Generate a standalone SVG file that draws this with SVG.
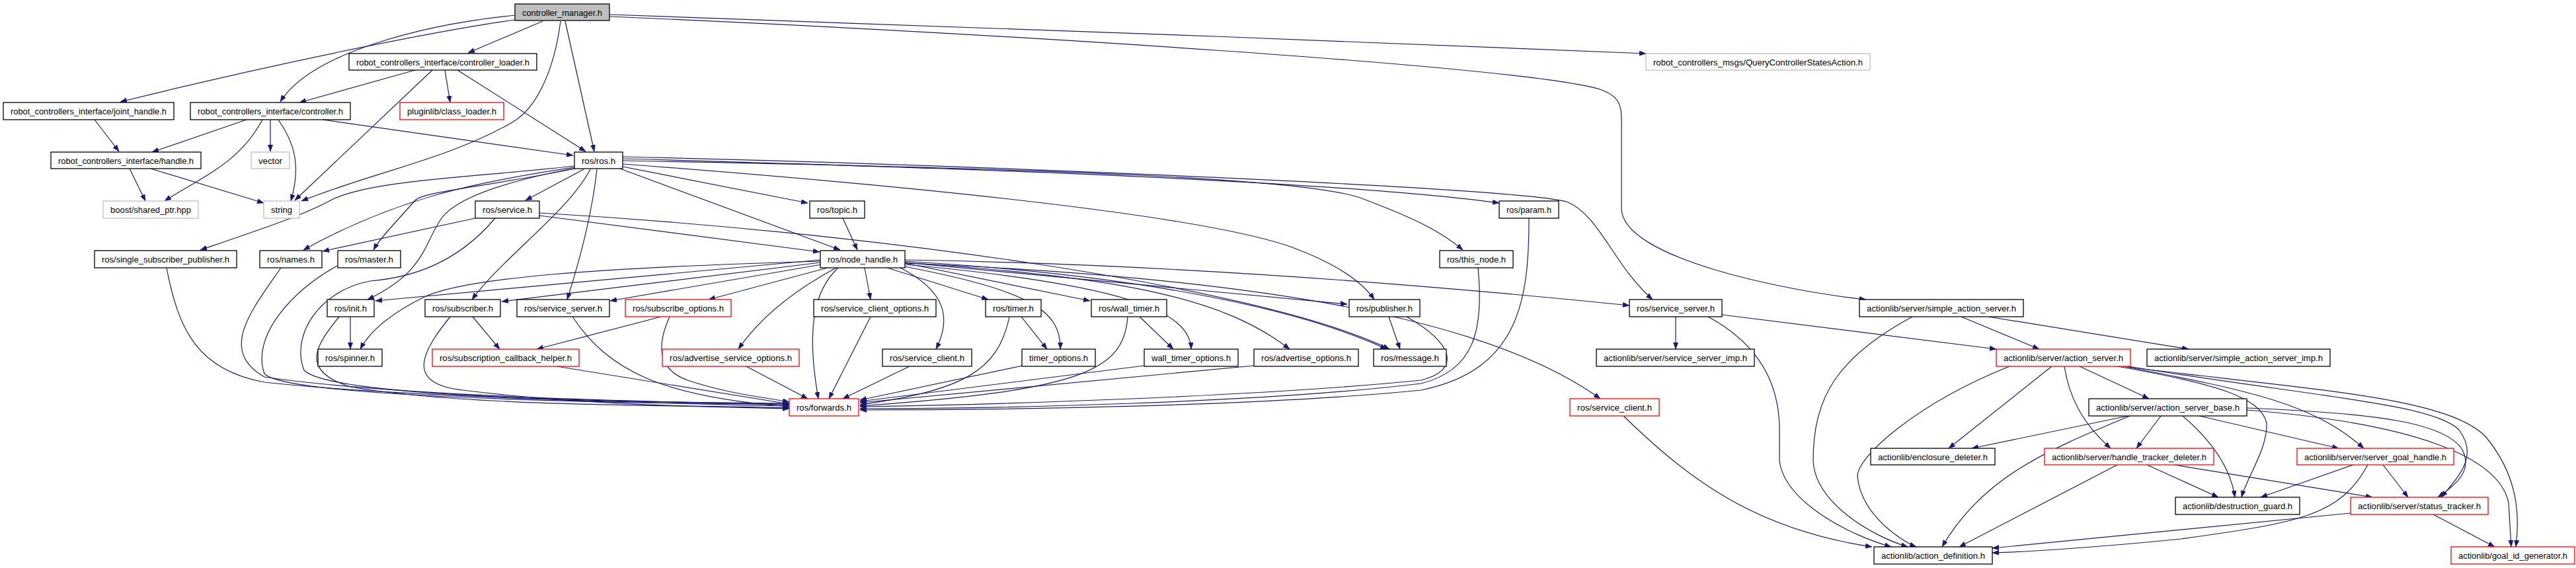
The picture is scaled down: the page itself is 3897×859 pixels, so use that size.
<svg xmlns="http://www.w3.org/2000/svg" width="3897" height="859" viewBox="0 0 3897 859">
<style>
.n rect{fill:#fff;stroke:#000;stroke-width:1.3}
.g rect{fill:#fff;stroke:#bfbfbf;stroke-width:1.3}
.r rect{fill:#fff;stroke:#ff0000;stroke-width:1.3}
.root rect{fill:#bfbfbf;stroke:#000;stroke-width:1.3}
text{font-family:"Liberation Sans",Arial,sans-serif;font-size:12.5px;fill:#000;text-anchor:middle}
#edges path{fill:none;stroke:#191970;stroke-width:1.2;marker-end:url(#ah)}
</style>
<defs>
<marker id="ah" markerUnits="userSpaceOnUse" markerWidth="11" markerHeight="8" refX="10" refY="3.75" orient="auto">
<path d="M0,0 L10,3.75 L0,7.5 z" fill="#191970" stroke="#191970" stroke-width="0.5"/>
</marker>
</defs>
<rect width="3897" height="859" fill="#fff"/>
<g id="edges">
<path d="M779,30 C650,48 400,100 182,154"/>
<path d="M779,23 C640,37 470,80 424,154"/>
<path d="M821,32 L708,80"/>
<path d="M848,32 C838,110 810,165 775,185 C680,240 560,262 456,304"/>
<path d="M855,32 L899,229"/>
<path d="M922,22 C1300,35 2000,60 2490,81"/>
<path d="M922,25 C1500,50 2300,100 2420,135 C2450,145 2453,160 2453,180 L2453,315 C2453,390 2700,440 2823,453"/>
<path d="M628,106 L453,155"/>
<path d="M654,106 L446,303"/>
<path d="M673,106 L681,155"/>
<path d="M692,106 L886,229"/>
<path d="M143,181 L180,229"/>
<path d="M373,181 L230,230"/>
<path d="M397,181 C360,250 300,270 249,304"/>
<path d="M409,181 L409,229"/>
<path d="M421,181 C445,215 456,250 440,304"/>
<path d="M488,181 L867,235"/>
<path d="M196,255 L220,304"/>
<path d="M228,255 L399,307"/>
<path d="M883,256 L795,303"/>
<path d="M869,251 C720,268 560,272 500,303 C460,325 400,345 303,378"/>
<path d="M869,253 C720,275 600,300 459,378"/>
<path d="M870,255 C720,285 640,290 628,303 C600,335 575,360 565,378"/>
<path d="M872,254 C760,275 690,300 668,330 C640,370 645,410 556,453"/>
<path d="M893,256 C860,320 760,390 714,453"/>
<path d="M903,256 C895,330 875,400 858,453"/>
<path d="M938,255 L1271,378"/>
<path d="M942,252 L1222,307"/>
<path d="M942,240 C1300,250 2000,270 2268,307"/>
<path d="M942,243 C1600,255 1980,270 2060,300 C2140,330 2180,350 2213,378"/>
<path d="M942,248 C1300,275 1800,320 1952,373 C2020,398 2060,425 2079,453"/>
<path d="M942,237 C1500,250 2300,285 2370,305 C2420,325 2440,400 2500,453"/>
<path d="M719,330 L488,380"/>
<path d="M816,326 L1240,381"/>
<path d="M816,322 C1300,350 1900,430 2102,528"/>
<path d="M749,330 C690,400 620,420 560,425 C480,440 440,510 460,560 C500,600 900,608 1194,610"/>
<path d="M252,405 C270,500 300,560 400,578 C600,600 1000,610 1194,614"/>
<path d="M425,405 C380,470 330,530 400,570 C600,600 1000,608 1194,612"/>
<path d="M510,402 C440,440 380,510 400,565 C430,600 900,610 1194,611"/>
<path d="M513,479 C480,520 450,560 530,585 C700,615 1000,612 1194,617"/>
<path d="M681,479 C640,530 610,580 700,590 C900,615 1100,615 1194,618"/>
<path d="M842,554 L1194,611"/>
<path d="M866,479 C920,560 1000,600 1194,615"/>
<path d="M1013,479 C990,530 1000,560 1040,575 C1100,595 1150,600 1194,608"/>
<path d="M1127,553 L1222,603"/>
<path d="M1268,405 C1230,440 1220,500 1238,603"/>
<path d="M1317,479 L1254,603"/>
<path d="M1378,553 L1275,603"/>
<path d="M1527,479 C1510,560 1460,590 1301,612"/>
<path d="M1547,553 L1301,605"/>
<path d="M1706,479 C1700,560 1640,590 1301,614"/>
<path d="M1731,553 L1301,607"/>
<path d="M1897,553 L1301,609"/>
<path d="M2128,479 C2200,520 2210,560 2150,575 C1900,600 1500,612 1301,615"/>
<path d="M2236,405 C2245,500 2230,560 2150,580 C1900,610 1500,618 1301,618"/>
<path d="M2313,330 C2313,450 2300,560 2150,590 C1900,615 1500,620 1301,620"/>
<path d="M530,479 L530,528"/>
<path d="M1241,395 C900,405 700,420 640,450 C590,475 560,500 545,528"/>
<path d="M1241,393 L568,455"/>
<path d="M1241,397 L759,456"/>
<path d="M1243,400 L923,455"/>
<path d="M1252,405 L1072,453"/>
<path d="M1265,405 C1200,440 1150,480 1117,528"/>
<path d="M1308,405 L1317,453"/>
<path d="M1342,405 L1495,453"/>
<path d="M1369,398 L1649,455"/>
<path d="M1362,405 C1430,440 1440,480 1416,528"/>
<path d="M1368,403 C1560,440 1605,470 1604,528"/>
<path d="M1369,400 C1700,430 1800,470 1802,528"/>
<path d="M1369,397 C1700,420 1850,450 1951,528"/>
<path d="M1369,397 L2038,460"/>
<path d="M1369,395 C1700,415 1950,460 2098,528"/>
<path d="M1369,393 C1800,400 2200,435 2465,462"/>
<path d="M1369,398 C1900,420 2250,480 2421,603"/>
<path d="M1275,330 L1297,378"/>
<path d="M715,479 L756,528"/>
<path d="M1000,479 L812,528"/>
<path d="M1545,479 L1584,528"/>
<path d="M1724,479 L1775,528"/>
<path d="M2101,479 L2118,528"/>
<path d="M2535,479 L2535,528"/>
<path d="M2584,479 C2660,520 2692,580 2692,650 L2692,697 C2700,760 2800,810 2861,827"/>
<path d="M2605,476 L3020,528"/>
<path d="M2456,629 C2550,720 2650,800 2832,827"/>
<path d="M2893,479 C2780,540 2743,600 2743,697 C2746,760 2830,810 2886,827"/>
<path d="M2967,479 L3085,528"/>
<path d="M3008,479 L3311,528"/>
<path d="M3040,554 C2900,610 2810,690 2810,720 C2815,780 2880,820 2899,827"/>
<path d="M3104,554 L2948,678"/>
<path d="M3123,554 C3130,600 3150,640 3193,678"/>
<path d="M3146,554 L3251,603"/>
<path d="M3203,554 C3350,580 3420,600 3429,640 C3430,680 3400,720 3391,752"/>
<path d="M3212,554 C3400,590 3500,610 3576,678"/>
<path d="M3219,554 C3500,600 3680,610 3720,650 C3750,690 3720,720 3693,752"/>
<path d="M3219,555 C3500,590 3700,600 3760,660 C3810,720 3812,780 3806,827"/>
<path d="M3219,629 L2983,678"/>
<path d="M3222,629 C3100,680 3000,720 2938,827"/>
<path d="M3269,629 L3232,678"/>
<path d="M3302,629 C3350,670 3375,710 3381,752"/>
<path d="M3327,629 L3538,678"/>
<path d="M3399,617 C3600,625 3700,640 3725,680 C3740,710 3720,730 3688,752"/>
<path d="M3399,620 C3650,640 3780,690 3795,760 L3799,827"/>
<path d="M3203,703 L2964,827"/>
<path d="M3248,703 L3356,752"/>
<path d="M3289,703 L3589,752"/>
<path d="M3560,703 L3420,752"/>
<path d="M3582,703 C3540,780 3480,790 3300,815 C3150,830 3050,835 3014,836"/>
<path d="M3605,703 L3643,752"/>
<path d="M3556,776 L3014,829"/>
<path d="M3681,778 L3774,827"/>
</g>
<g id="n0" class="root"><rect x="779" y="6" width="143" height="25"/><text x="850.5" y="23.5" textLength="121" lengthAdjust="spacingAndGlyphs">controller_manager.h</text></g>
<g id="n1" class="n"><rect x="528" y="81" width="284" height="25"/><text x="670" y="98.5" textLength="262" lengthAdjust="spacingAndGlyphs">robot_controllers_interface/controller_loader.h</text></g>
<g id="n2" class="g"><rect x="2490" y="81" width="339" height="25"/><text x="2659.5" y="98.5" textLength="317" lengthAdjust="spacingAndGlyphs">robot_controllers_msgs/QueryControllerStatesAction.h</text></g>
<g id="n3" class="n"><rect x="5" y="155" width="258" height="26"/><text x="134" y="172.5" textLength="236" lengthAdjust="spacingAndGlyphs">robot_controllers_interface/joint_handle.h</text></g>
<g id="n4" class="n"><rect x="288" y="155" width="242" height="26"/><text x="409" y="172.5" textLength="220" lengthAdjust="spacingAndGlyphs">robot_controllers_interface/controller.h</text></g>
<g id="n5" class="r"><rect x="605" y="155" width="157" height="26"/><text x="683.5" y="172.5" textLength="135" lengthAdjust="spacingAndGlyphs">pluginlib/class_loader.h</text></g>
<g id="n6" class="n"><rect x="77" y="230" width="227" height="25"/><text x="190.5" y="247.5" textLength="205" lengthAdjust="spacingAndGlyphs">robot_controllers_interface/handle.h</text></g>
<g id="n7" class="g"><rect x="380" y="230" width="58" height="25"/><text x="409" y="247.5" textLength="36" lengthAdjust="spacingAndGlyphs">vector</text></g>
<g id="n8" class="n"><rect x="869" y="230" width="73" height="25"/><text x="905.5" y="247.5" textLength="51" lengthAdjust="spacingAndGlyphs">ros/ros.h</text></g>
<g id="n9" class="g"><rect x="156" y="304" width="144" height="26"/><text x="228" y="321.5" textLength="122" lengthAdjust="spacingAndGlyphs">boost/shared_ptr.hpp</text></g>
<g id="n10" class="g"><rect x="399" y="304" width="54" height="26"/><text x="426" y="321.5" textLength="32" lengthAdjust="spacingAndGlyphs">string</text></g>
<g id="n11" class="n"><rect x="719" y="304" width="97" height="26"/><text x="767.5" y="321.5" textLength="75" lengthAdjust="spacingAndGlyphs">ros/service.h</text></g>
<g id="n12" class="n"><rect x="1225" y="304" width="83" height="26"/><text x="1266.5" y="321.5" textLength="61" lengthAdjust="spacingAndGlyphs">ros/topic.h</text></g>
<g id="n13" class="n"><rect x="2268" y="304" width="90" height="26"/><text x="2313" y="321.5" textLength="68" lengthAdjust="spacingAndGlyphs">ros/param.h</text></g>
<g id="n14" class="n"><rect x="143" y="379" width="215" height="26"/><text x="250.5" y="396.5" textLength="193" lengthAdjust="spacingAndGlyphs">ros/single_subscriber_publisher.h</text></g>
<g id="n15" class="n"><rect x="393" y="379" width="94" height="26"/><text x="440" y="396.5" textLength="72" lengthAdjust="spacingAndGlyphs">ros/names.h</text></g>
<g id="n16" class="n"><rect x="511" y="379" width="95" height="26"/><text x="558.5" y="396.5" textLength="73" lengthAdjust="spacingAndGlyphs">ros/master.h</text></g>
<g id="n17" class="n"><rect x="1241" y="379" width="128" height="26"/><text x="1305" y="396.5" textLength="106" lengthAdjust="spacingAndGlyphs">ros/node_handle.h</text></g>
<g id="n18" class="n"><rect x="2178" y="379" width="111" height="26"/><text x="2233.5" y="396.5" textLength="89" lengthAdjust="spacingAndGlyphs">ros/this_node.h</text></g>
<g id="n19" class="n"><rect x="495" y="453" width="71" height="26"/><text x="530.5" y="470.5" textLength="49" lengthAdjust="spacingAndGlyphs">ros/init.h</text></g>
<g id="n20" class="n"><rect x="643" y="453" width="114" height="26"/><text x="700" y="470.5" textLength="92" lengthAdjust="spacingAndGlyphs">ros/subscriber.h</text></g>
<g id="n21" class="n"><rect x="782" y="453" width="140" height="26"/><text x="852" y="470.5" textLength="118" lengthAdjust="spacingAndGlyphs">ros/service_server.h</text></g>
<g id="n22" class="r"><rect x="946" y="453" width="160" height="26"/><text x="1026" y="470.5" textLength="138" lengthAdjust="spacingAndGlyphs">ros/subscribe_options.h</text></g>
<g id="n23" class="n"><rect x="1231" y="453" width="185" height="26"/><text x="1323.5" y="470.5" textLength="163" lengthAdjust="spacingAndGlyphs">ros/service_client_options.h</text></g>
<g id="n24" class="n"><rect x="1491" y="453" width="84" height="26"/><text x="1533" y="470.5" textLength="62" lengthAdjust="spacingAndGlyphs">ros/timer.h</text></g>
<g id="n25" class="n"><rect x="1651" y="453" width="114" height="26"/><text x="1708" y="470.5" textLength="92" lengthAdjust="spacingAndGlyphs">ros/wall_timer.h</text></g>
<g id="n26" class="n"><rect x="2041" y="453" width="107" height="26"/><text x="2094.5" y="470.5" textLength="85" lengthAdjust="spacingAndGlyphs">ros/publisher.h</text></g>
<g id="n27" class="n"><rect x="2465" y="453" width="140" height="26"/><text x="2535" y="470.5" textLength="118" lengthAdjust="spacingAndGlyphs">ros/service_server.h</text></g>
<g id="n28" class="n"><rect x="2813" y="453" width="248" height="26"/><text x="2937" y="470.5" textLength="226" lengthAdjust="spacingAndGlyphs">actionlib/server/simple_action_server.h</text></g>
<g id="n29" class="n"><rect x="481" y="528" width="97" height="26"/><text x="529.5" y="545.5" textLength="75" lengthAdjust="spacingAndGlyphs">ros/spinner.h</text></g>
<g id="n30" class="r"><rect x="654" y="528" width="222" height="26"/><text x="765" y="545.5" textLength="200" lengthAdjust="spacingAndGlyphs">ros/subscription_callback_helper.h</text></g>
<g id="n31" class="r"><rect x="1002" y="528" width="207" height="26"/><text x="1105.5" y="545.5" textLength="185" lengthAdjust="spacingAndGlyphs">ros/advertise_service_options.h</text></g>
<g id="n32" class="n"><rect x="1335" y="528" width="135" height="26"/><text x="1402.5" y="545.5" textLength="113" lengthAdjust="spacingAndGlyphs">ros/service_client.h</text></g>
<g id="n33" class="n"><rect x="1546" y="528" width="111" height="26"/><text x="1601.5" y="545.5" textLength="89" lengthAdjust="spacingAndGlyphs">timer_options.h</text></g>
<g id="n34" class="n"><rect x="1731" y="528" width="142" height="26"/><text x="1802" y="545.5" textLength="120" lengthAdjust="spacingAndGlyphs">wall_timer_options.h</text></g>
<g id="n35" class="n"><rect x="1897" y="528" width="158" height="26"/><text x="1976" y="545.5" textLength="136" lengthAdjust="spacingAndGlyphs">ros/advertise_options.h</text></g>
<g id="n36" class="n"><rect x="2078" y="528" width="110" height="26"/><text x="2133" y="545.5" textLength="88" lengthAdjust="spacingAndGlyphs">ros/message.h</text></g>
<g id="n37" class="n"><rect x="2415" y="528" width="239" height="26"/><text x="2534.5" y="545.5" textLength="217" lengthAdjust="spacingAndGlyphs">actionlib/server/service_server_imp.h</text></g>
<g id="n38" class="r"><rect x="3020" y="528" width="203" height="26"/><text x="3121.5" y="545.5" textLength="181" lengthAdjust="spacingAndGlyphs">actionlib/server/action_server.h</text></g>
<g id="n39" class="n"><rect x="3248" y="528" width="277" height="26"/><text x="3386.5" y="545.5" textLength="255" lengthAdjust="spacingAndGlyphs">actionlib/server/simple_action_server_imp.h</text></g>
<g id="n40" class="r"><rect x="1194" y="603" width="105" height="26"/><text x="1246.5" y="620.5" textLength="83" lengthAdjust="spacingAndGlyphs">ros/forwards.h</text></g>
<g id="n41" class="r"><rect x="2375" y="603" width="135" height="26"/><text x="2442.5" y="620.5" textLength="113" lengthAdjust="spacingAndGlyphs">ros/service_client.h</text></g>
<g id="n42" class="n"><rect x="3160" y="603" width="239" height="26"/><text x="3279.5" y="620.5" textLength="217" lengthAdjust="spacingAndGlyphs">actionlib/server/action_server_base.h</text></g>
<g id="n43" class="n"><rect x="2830" y="678" width="188" height="25"/><text x="2924" y="695.5" textLength="166" lengthAdjust="spacingAndGlyphs">actionlib/enclosure_deleter.h</text></g>
<g id="n44" class="r"><rect x="3093" y="678" width="256" height="25"/><text x="3221" y="695.5" textLength="234" lengthAdjust="spacingAndGlyphs">actionlib/server/handle_tracker_deleter.h</text></g>
<g id="n45" class="r"><rect x="3475" y="678" width="237" height="25"/><text x="3593.5" y="695.5" textLength="215" lengthAdjust="spacingAndGlyphs">actionlib/server/server_goal_handle.h</text></g>
<g id="n46" class="n"><rect x="3291" y="752" width="188" height="26"/><text x="3385" y="769.5" textLength="166" lengthAdjust="spacingAndGlyphs">actionlib/destruction_guard.h</text></g>
<g id="n47" class="r"><rect x="3556" y="752" width="208" height="26"/><text x="3660" y="769.5" textLength="186" lengthAdjust="spacingAndGlyphs">actionlib/server/status_tracker.h</text></g>
<g id="n48" class="n"><rect x="2835" y="827" width="179" height="26"/><text x="2924.5" y="844.5" textLength="157" lengthAdjust="spacingAndGlyphs">actionlib/action_definition.h</text></g>
<g id="n49" class="r"><rect x="3708" y="827" width="187" height="26"/><text x="3801.5" y="844.5" textLength="165" lengthAdjust="spacingAndGlyphs">actionlib/goal_id_generator.h</text></g>
</svg>
